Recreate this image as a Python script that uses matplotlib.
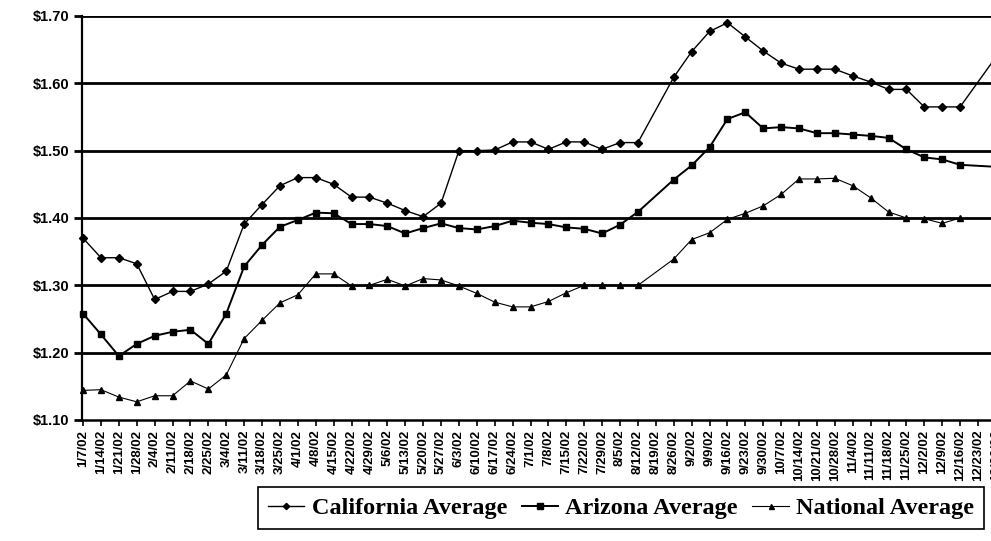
import numpy as np
import matplotlib
matplotlib.use("Agg")
import matplotlib.pyplot as plt

dates = ["1/7/02", "1/14/02", "1/21/02", "1/28/02", "2/4/02", "2/11/02", "2/18/02", "2/25/02",
         "3/4/02", "3/11/02", "3/18/02", "3/25/02", "4/1/02", "4/8/02", "4/15/02", "4/22/02",
         "4/29/02", "5/6/02", "5/13/02", "5/20/02", "5/27/02", "6/3/02", "6/10/02", "6/17/02",
         "6/24/02", "7/1/02", "7/8/02", "7/15/02", "7/22/02", "7/29/02", "8/5/02", "8/12/02",
         "8/19/02", "8/26/02", "9/2/02", "9/9/02", "9/16/02", "9/23/02", "9/30/02", "10/7/02",
         "10/14/02", "10/21/02", "10/28/02", "11/4/02", "11/11/02", "11/18/02", "11/25/02",
         "12/2/02", "12/9/02", "12/16/02", "12/23/02", "12/30/02"]

california = [1.370, 1.341, 1.341, 1.332, 1.279, 1.291, 1.291, 1.302, 1.321, 1.391,
              1.420, 1.448, 1.460, 1.460, 1.450, 1.431, 1.431, 1.422, 1.411, 1.402,
              1.422, 1.500, 1.500, 1.501, 1.513, 1.513, 1.502, 1.513, 1.513, 1.502,
              1.512, 1.512, None, 1.609, 1.647, 1.677, 1.690, 1.669, 1.648, 1.630,
              1.621, 1.621, 1.621, 1.611, 1.602, 1.591, 1.591, 1.565, 1.565, 1.565,
              None, 1.639]

arizona = [1.258, 1.227, 1.195, 1.213, 1.225, 1.231, 1.234, 1.213, 1.258, 1.328,
           1.360, 1.387, 1.397, 1.408, 1.407, 1.391, 1.391, 1.388, 1.377, 1.385,
           1.392, 1.385, 1.383, 1.388, 1.396, 1.393, 1.391, 1.386, 1.384, 1.377,
           1.390, 1.409, None, 1.457, 1.478, 1.505, 1.547, 1.557, 1.533, 1.535,
           1.533, 1.526, 1.526, 1.524, 1.522, 1.519, 1.502, 1.490, 1.487, 1.479,
           None, 1.476]

national = [1.144, 1.145, 1.134, 1.127, 1.136, 1.136, 1.158, 1.146, 1.167, 1.221,
            1.248, 1.274, 1.286, 1.317, 1.317, 1.299, 1.300, 1.309, 1.299, 1.310,
            1.308, 1.299, 1.288, 1.275, 1.268, 1.268, 1.276, 1.289, 1.300, 1.300,
            1.300, 1.300, None, 1.339, 1.368, 1.378, 1.398, 1.407, 1.418, 1.435,
            1.458, 1.458, 1.459, 1.448, 1.430, 1.409, 1.400, 1.399, 1.392, 1.400,
            None, None]

y_ticks = [1.10, 1.20, 1.30, 1.40, 1.50, 1.60, 1.70]
series_names = ["California Average", "Arizona Average", "National Average"]

W, H = 991, 541
fig = plt.figure(figsize=(W / 100, H / 100), dpi=100)
left_px, right_px, top_px, bot_px = 82, 1000, 16, 420
ax = fig.add_axes([left_px / W, (H - bot_px) / H, (right_px - left_px) / W, (bot_px - top_px) / H])

x = np.arange(len(dates))
styles = [
    dict(marker="D", ms=4.0, lw=1.0),
    dict(marker="s", ms=5.0, lw=1.4),
    dict(marker="^", ms=4.5, lw=0.8),
]
handles = []
for vals, name, st in zip([california, arizona, national], series_names, styles):
    v = np.array([np.nan if a is None else a for a in vals], dtype=float)
    m = ~np.isnan(v)
    h, = ax.plot(x[m], v[m], color="black", lw=st["lw"], marker=st["marker"],
                 ms=st["ms"], mfc="black", mec="black", label=name, zorder=3, clip_on=False)
    handles.append(h)

ax.set_ylim(1.10, 1.70)
ax.set_xlim(-0.06, (right_px - 83) / 17.9)
ax.set_yticks(y_ticks)
ax.set_yticklabels([f"${t:.2f}" for t in y_ticks], fontfamily="Liberation Sans",
                   fontweight="bold", fontsize=10.5)
for t in y_ticks[1:]:
    ax.axhline(t, color="black", lw=2.0, zorder=1)

ax.set_xticks(x)
ax.set_xticklabels(dates, rotation=90, fontfamily="Liberation Sans", fontweight="bold",
                   fontsize=9.5, va="top", ha="center")
ax.tick_params(axis="x", direction="out", length=4, width=1.2, pad=3)
ax.tick_params(axis="y", direction="out", length=6, width=2, pad=3)

for s in ["top", "right"]:
    ax.spines[s].set_visible(False)
ax.spines["left"].set_linewidth(1.6)
ax.spines["bottom"].set_linewidth(1.8)

leg = fig.legend(handles=handles, labels=series_names, loc="center",
                 bbox_to_anchor=(621 / W, 1 - 508 / H), ncol=3, frameon=True,
                 fancybox=False, edgecolor="black", framealpha=1,
                 prop=dict(family="Liberation Serif", weight="bold", size=17.5),
                 handlelength=1.5, handletextpad=0.3, columnspacing=0.6,
                 borderpad=0.4, borderaxespad=0, markerscale=0.8)
leg.get_frame().set_linewidth(1.2)

fig.savefig("out.png", dpi=100)
